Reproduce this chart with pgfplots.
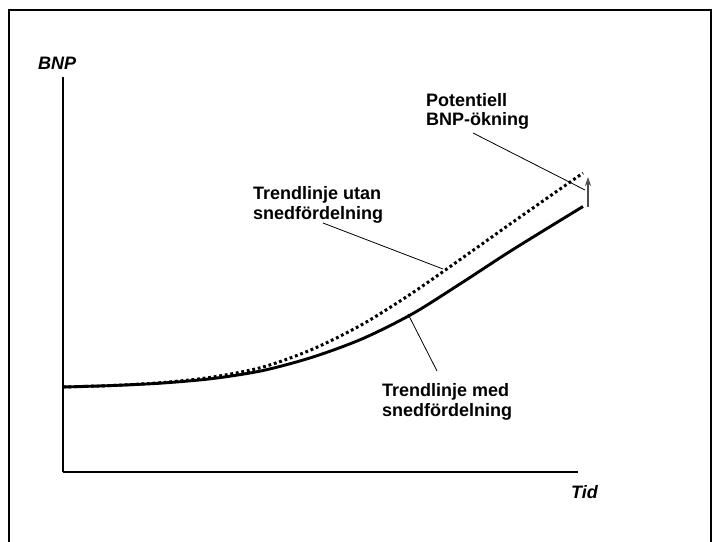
\documentclass[border=0pt]{standalone}
\usepackage{pgfplots}
\pgfplotsset{compat=1.18}
\usetikzlibrary{arrows.meta}
\usepackage{fontspec}
\setmainfont{Liberation Sans}
\begin{document}
\begin{tikzpicture}[lbl/.style={font=\fontsize{18}{20}\selectfont\bfseries, inner sep=0pt, anchor=base west}]
\useasboundingbox (-63pt,-69pt) rectangle (657pt,472pt);
\begin{axis}[
  scale only axis, anchor=origin, at={(0pt,0pt)},
  x=1pt, y=1pt,
  xmin=0, xmax=515, ymin=0, ymax=395,
  axis lines=left, axis line style={-, line width=1.3pt},
  xtick=\empty, ytick=\empty,
  clip=false,
]
% trend with skew (solid)
\addplot[black, line width=2.9pt, smooth] coordinates {
  (0,85) (50,86.5) (100,89) (150,93.5) (200,101.5) (250,115) (300,133.5)
  (350,158.5) (400,190) (450,222.5) (520,265.5)};
% trend without skew (dotted)
\addplot[black, line width=3pt, dash pattern=on 2.8pt off 2.8pt, smooth] coordinates {
  (0,85) (50,86.5) (100,89.5) (150,95) (200,105) (250,123) (300,148)
  (350,179.5) (400,214.5) (450,250) (520,299)};
% potential gain arrow
\draw[gray!60!black, line width=1.1pt, -{Stealth[length=9pt,width=6pt,open]}] (axis cs:525,265) -- (axis cs:525,295);
% pointer lines
\draw[black, line width=0.8pt] (axis cs:410,339) -- (axis cs:522,282);
\draw[black, line width=0.8pt] (axis cs:260,249) -- (axis cs:380,203);
\draw[black, line width=0.8pt] (axis cs:374,101) -- (axis cs:345,158);
% labels
\node[lbl] at (axis cs:-25,402) {\itshape BNP};
\node[lbl] at (axis cs:508,-26) {\itshape Tid};
\node[lbl] at (axis cs:363,365) {Potentiell};
\node[lbl] at (axis cs:363,346.5) {BNP-ökning};
\node[lbl] at (axis cs:190,272) {Trendlinje utan};
\node[lbl] at (axis cs:190,252) {snedfördelning};
\node[lbl] at (axis cs:319,76) {Trendlinje med};
\node[lbl] at (axis cs:319,56) {snedfördelning};
% outer frame
\draw[black, line width=1.5pt] (axis cs:-54,-75) -- (axis cs:-54,462) -- (axis cs:648,462) -- (axis cs:648,-75);
\end{axis}
\end{tikzpicture}
\end{document}
